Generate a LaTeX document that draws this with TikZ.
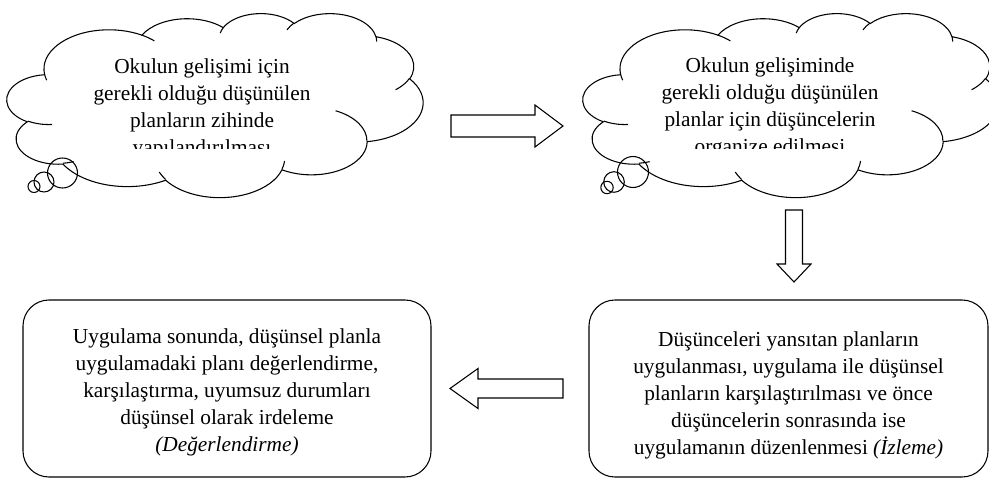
\documentclass[tikz,border=0pt]{standalone}
\usepackage{fontspec}
\setmainfont{Liberation Serif}

\tikzset{
  cloudline/.style={draw=black, line width=0.8pt},
  stagetext/.style={align=center, inner sep=0pt, font=\fontsize{16}{20.25}\selectfont},
  stagebox/.style={stagetext, draw, line width=0.8pt, rounded corners=19.5pt},
  blockarrow/.style={draw, line width=0.8pt, line join=miter}
}

\begin{document}
\begin{tikzpicture}[x=0.75pt, y=-0.75pt]
    \useasboundingbox (0,0) rectangle (989,478);
    % Draw the two clouds
    \foreach \cx in {7,583}{
      \begin{scope}[shift={(\cx,13)}, x=0.7222pt, y=-0.3194pt]
        \draw[cloudline] (39.00,143.70)
          \foreach \rw/\rh/\st/\sw in {67.53/91.90/-190.4875/123.7805, 53.33/72.67/-144.1024/89.9452,
              43.65/59.45/-145.8079/99.7230, 48.57/65.95/-130.9861/117.2417,
              53.33/72.73/-78.7089/109.0269, 67.75/92.20/-46.2673/130.2690,
              57.85/78.67/0.6250/114.0333, 67.52/92.15/22.4516/115.1726,
              77.20/105.43/66.2426/75.7110, 43.60/59.18/-274.9421/146.7356,
              43.45/59.45/-246.8285/152.5189}{
            \pgfextra{%
              \pgfmathsetmacro\ta{atan2(\rw*sin(\st),\rh*cos(\st))}%
              \pgfmathsetmacro\tb{atan2(\rw*sin(\st+\sw),\rh*cos(\st+\sw))}%
              \pgfmathsetmacro\td{mod(\tb-\ta+720,360)}%
            }
            arc[x radius=\rw, y radius=\rh, start angle=\ta, delta angle=\td]
          } -- cycle;
        \foreach \px/\py/\rw/\rh/\st/\sw in {46.93/261.77/43.45/59.45/86.742/26.4295,
            69.28/348.99/43.60/59.18/73.6105/11.4475, 164.78/390.90/67.52/92.15/137.6241/14.0811,
            288.27/347.51/67.52/92.15/6.4533/15.9984, 341.29/229.54/57.85/78.67/-70.2924/70.9174,
            417.98/153.54/53.33/72.73/30.3180/27.7515, 383.24/54.26/48.57/65.95/-13.7443/14.8589,
            290.78/39.52/48.57/65.95/-149.1815/18.1954, 221.41/47.20/43.65/59.45/-163.4943/17.6864,
            140.00/51.92/67.53/91.90/-66.7070/12.3194, 41.27/157.89/67.53/91.90/157.6544/11.8582}{
          \pgfmathsetmacro\ta{atan2(\rw*sin(\st),\rh*cos(\st))}
          \pgfmathsetmacro\tb{atan2(\rw*sin(\st+\sw),\rh*cos(\st+\sw))}
          \pgfmathsetmacro\td{mod(\tb-\ta+720,360)}
          \draw[cloudline] (\px,\py) arc[x radius=\rw, y radius=\rh, start angle=\ta, delta angle=\td];
        }
      \end{scope}
    }
    % Thought bubbles
    \draw[cloudline] (62.5,173) circle[radius=15];
    \draw[cloudline] (44,182) circle[radius=10];
    \draw[cloudline] (34,186.5) circle[radius=6];
    \draw[cloudline] (633,172) circle[radius=15.5];
    \draw[cloudline] (614,182) circle[radius=10.3];
    \draw[cloudline] (607,187.5) circle[radius=6.2];
    % Cloud texts, cut at the bottom
    \begin{scope}
      \clip (0,0) rectangle (989,148);
      \node[stagetext] (plancloud) at (202,109) {Okulun gelişimi için\\gerekli olduğu düşünülen\\planların zihinde\\yapılandırılması};
      \node[stagetext] (organizecloud) at (770,108) {Okulun gelişiminde\\gerekli olduğu düşünülen\\planlar için düşüncelerin\\organize edilmesi};
    \end{scope}
    % Boxes
    \node[stagebox, minimum width=299.25pt, minimum height=132.75pt] (monitorbox) at (788.5,388.5)
      {\rule{0pt}{21.5pt}Düşünceleri yansıtan planların\\uygulanması, uygulama ile düşünsel\\planların karşılaştırılması ve önce\\düşüncelerin sonrasında ise\\uygulamanın düzenlenmesi \textit{(İzleme)}};
    \node[stagebox, minimum width=306pt, minimum height=132.75pt] (evalbox) at (227,388.5)
      {\rule{0pt}{17pt}Uygulama sonunda, düşünsel planla\\uygulamadaki planı değerlendirme,\\karşılaştırma, uyumsuz durumları\\düşünsel olarak irdeleme\\\textit{(Değerlendirme)}};
    % Block arrows
    \coordinate (rightarrow) at (451,126);
    \coordinate (downarrow) at (794,210);
    \coordinate (leftarrow) at (563,388.5);
    \draw[blockarrow] (rightarrow) ++(0,-11) -- ++(84,0) -- ++(0,-10) -- ++(28,21) -- ++(-28,21) -- ++(0,-10) -- ++(-84,0) -- cycle;
    \draw[blockarrow] (downarrow) ++(-8.5,0) -- ++(17,0) -- ++(0,54) -- ++(8.5,0) -- ++(-17,18) -- ++(-17,-18) -- ++(8.5,0) -- cycle;
    \draw[blockarrow] (leftarrow) ++(0,-9.5) -- ++(-85,0) -- ++(0,-10.5) -- ++(-28,20) -- ++(28,20) -- ++(0,-10.5) -- ++(85,0) -- cycle;
\end{tikzpicture}
\end{document}
